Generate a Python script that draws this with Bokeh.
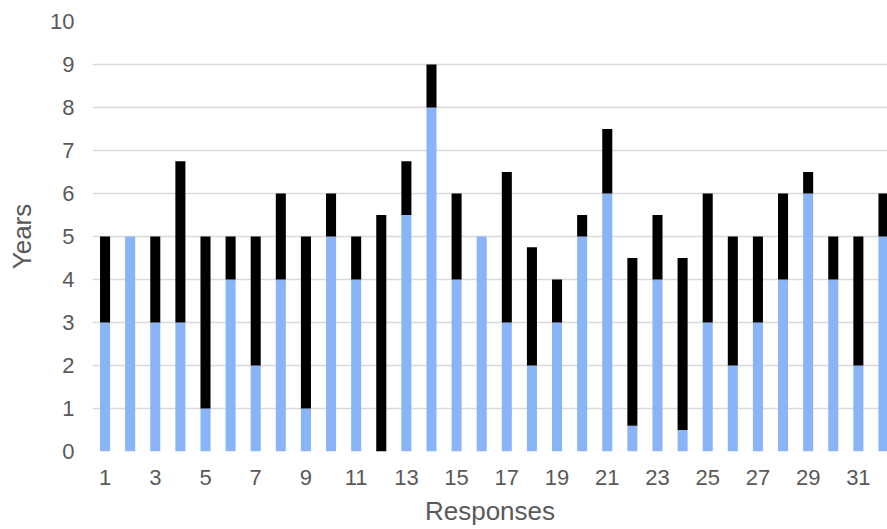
from bokeh.plotting import figure
from bokeh.models import ColumnDataSource, Range1d, FixedTicker
from bokeh.embed import file_html
from bokeh.resources import INLINE

responses = list(range(1, 33))
blue_years = [3, 5, 3, 3, 1, 4, 2, 4, 1, 5, 4, 0, 5.5, 8, 4, 5,
              3, 2, 3, 5, 6, 0.6, 4, 0.5, 3, 2, 3, 4, 6, 4, 2, 5]
black_years = [2, 0, 2, 3.75, 4, 1, 3, 2, 4, 1, 1, 5.5, 1.25, 1, 2, 0,
               3.5, 2.75, 1, 0.5, 1.5, 3.9, 1.5, 4, 3, 3, 2, 2, 0.5, 1, 3, 1]
x_ticks = [1, 3, 5, 7, 9, 11, 13, 15, 17, 19, 21, 23, 25, 27, 29, 31]
y_ticks = [0, 1, 2, 3, 4, 5, 6, 7, 8, 9, 10]

source = ColumnDataSource(dict(x=responses, blue=blue_years, black=black_years))

p = figure(width=887, height=529, output_backend="svg", toolbar_location=None,
           x_range=Range1d(0.5, 32.16), y_range=Range1d(0, 10),
           min_border_left=92, min_border_right=0, min_border_top=21,
           min_border_bottom=78, outline_line_color=None)

p.vbar_stack(["blue", "black"], x="x", width=0.4, source=source,
             color=["#8ab4f8", "#000000"], line_color=None)

p.xaxis.ticker = FixedTicker(ticks=x_ticks)
p.yaxis.ticker = FixedTicker(ticks=y_ticks)
for ax in (p.xaxis[0], p.yaxis[0]):
    ax.axis_line_color = None
    ax.major_tick_line_color = None
    ax.minor_tick_line_color = None
    ax.major_tick_out = 0
    ax.major_tick_in = 0
    ax.minor_tick_out = 0
    ax.minor_tick_in = 0
    ax.major_label_text_font = "Liberation Sans"
    ax.major_label_text_font_size = "22px"
    ax.major_label_text_color = "#595959"
    ax.axis_label_text_font = "Liberation Sans"
    ax.axis_label_text_font_size = "26px"
    ax.axis_label_text_font_style = "normal"
    ax.axis_label_text_color = "#595959"

p.xaxis.axis_label = "Responses"
p.yaxis.axis_label = "Years"
p.xaxis.major_label_standoff = 18
p.yaxis.major_label_standoff = 18
p.xaxis.axis_label_standoff = 8
p.yaxis.axis_label_standoff = 10

p.xgrid.grid_line_color = None
p.ygrid.grid_line_color = "#d9d9d9"
p.ygrid.grid_line_width = 1.5
p.ygrid.ticker = FixedTicker(ticks=y_ticks)

open("out.html", "w").write(file_html(p, INLINE))
